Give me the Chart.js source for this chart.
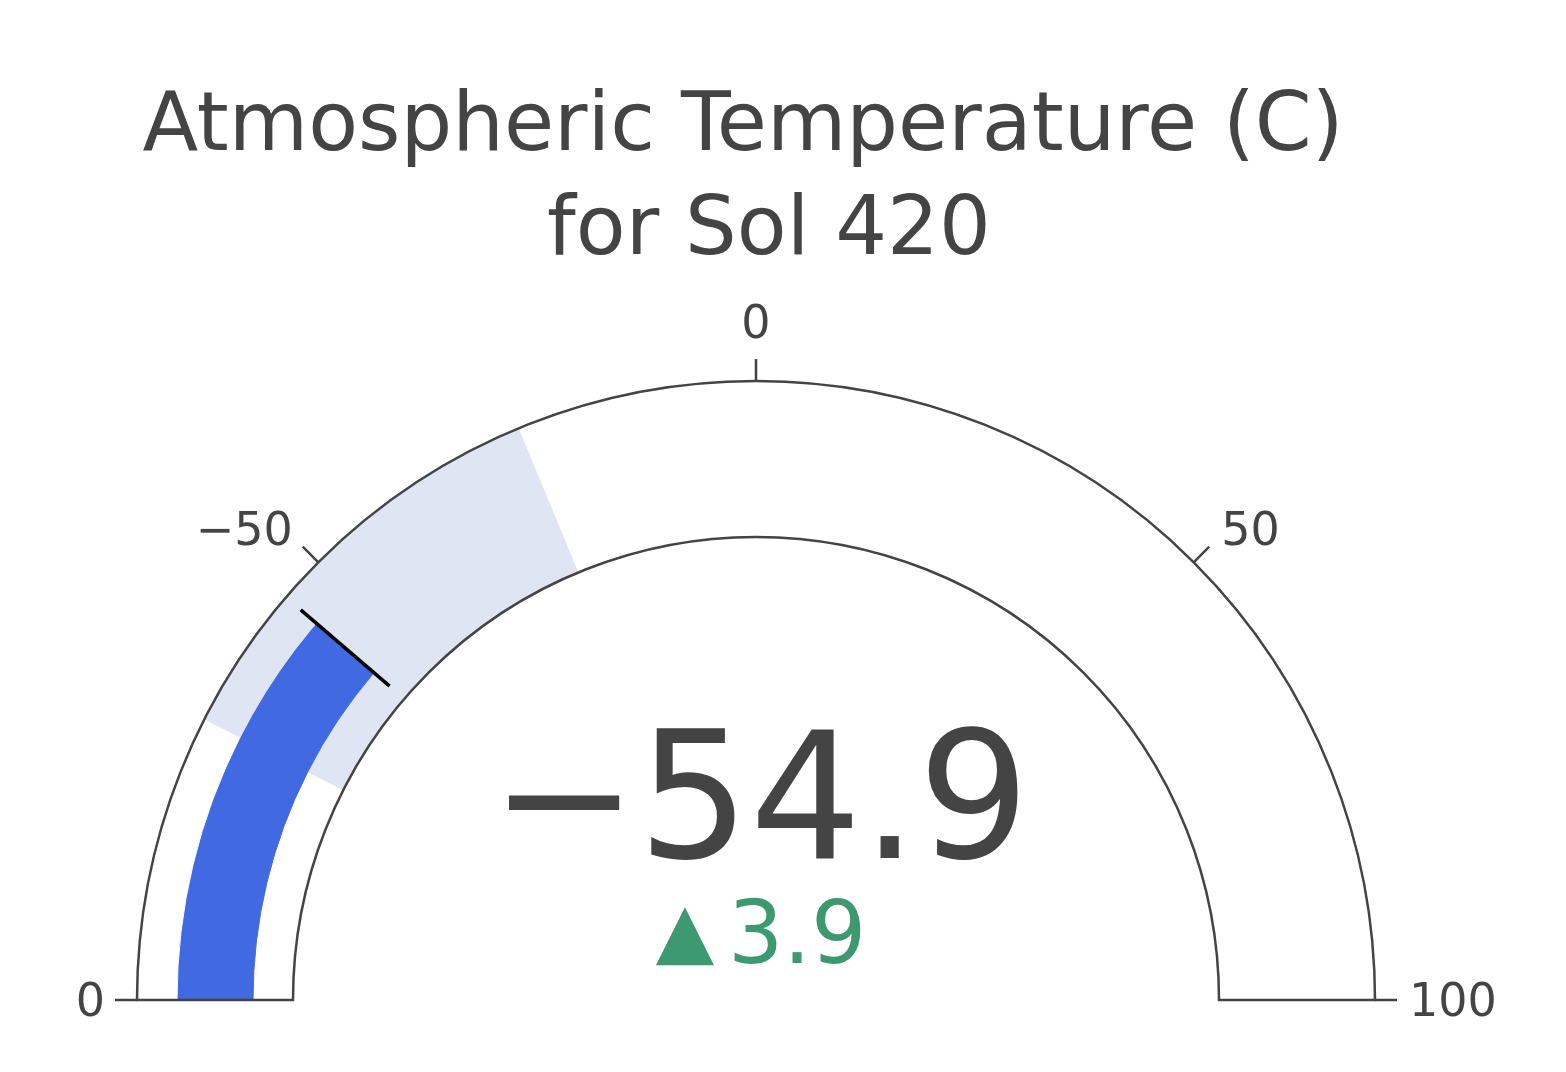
<!DOCTYPE html>
<html>
<head>
<meta charset="utf-8">
<script src="https://cdn.jsdelivr.net/npm/chart.js@4/dist/chart.umd.min.js"></script>
<style>
  html, body { margin:0; padding:0; background:#fff; }
  #wrap { width:1566px; height:1072px; }
</style>
</head>
<body>
<div id="wrap"><canvas id="gauge"></canvas></div>
<script>
// ---- data -----------------------------------------------------------------
const titleLines = ["Atmospheric Temperature (C) ", " for Sol 420"];
const gaugeMin = -100, gaugeMax = 100;
const gaugeValue = -54.9;
const deltaValue = 3.9;
const thresholdValue = -54.9;
const stepRange = [-70, -25];
const tickValues = [-100, -50, 0, 50, 100];
const tickLabels = ["0", "\u221250", "0", "50", "100"];

const INK = "#444444", BAR = "#4169e1", STEP = "#dfe5f2", BG = "#ffffff", UP = "#3d9970";
const FONT = "'DejaVu Sans', Verdana, sans-serif";

// corta el rango en tramos y les da color: barra (hasta el valor), banda, o vacio
function ringSegments(withBar){
  const cuts = [gaugeMin, gaugeMax, stepRange[0], stepRange[1]];
  if (withBar) cuts.push(gaugeValue);
  const pts = [...new Set(cuts)].sort((a,b) => a-b);
  const data = [], colors = [];
  for (let i = 0; i < pts.length-1; i++){
    const mid = (pts[i]+pts[i+1])/2;
    data.push(pts[i+1]-pts[i]);
    if (withBar && mid < gaugeValue) colors.push(BAR);
    else if (mid > stepRange[0] && mid < stepRange[1]) colors.push(STEP);
    else colors.push(BG);
  }
  return { data, colors };
}

const outerRing = ringSegments(false), barRing = ringSegments(true), innerRing = ringSegments(false);
const ring = (r, weight) => ({
  data: r.data, backgroundColor: r.colors, borderColor: r.colors,
  borderWidth: 1, weight
});

// valor -> angulo (izquierda = min, derecha = max, por arriba)
const angleOf = v => Math.PI + (v - gaugeMin)/(gaugeMax - gaugeMin)*Math.PI;

// ---- gauge overlay: borde, ticks, umbral, numero --------------------------
const gaugeDecor = {
  id: "gaugeDecor",
  afterDatasetsDraw(chart){
    const ctx = chart.ctx;
    const first = chart.getDatasetMeta(0).data[0];
    const last = chart.getDatasetMeta(chart.data.datasets.length-1).data[0];
    const cx = first.x, cy = first.y, R = first.outerRadius, r = last.innerRadius;

    ctx.save();
    // threshold
    const tr0 = (R + r)/2 - 0.375*(R - r), tr1 = (R + r)/2 + 0.375*(R - r);
    const ta = angleOf(thresholdValue);
    ctx.strokeStyle = "#000"; ctx.lineWidth = 3.5;
    ctx.beginPath();
    ctx.moveTo(cx + tr0*Math.cos(ta), cy + tr0*Math.sin(ta));
    ctx.lineTo(cx + tr1*Math.cos(ta), cy + tr1*Math.sin(ta));
    ctx.stroke();

    // outline
    ctx.strokeStyle = INK; ctx.lineWidth = 2.5;
    ctx.beginPath();
    ctx.arc(cx, cy, R, Math.PI, 2*Math.PI);
    ctx.lineTo(cx + r, cy);
    ctx.arc(cx, cy, r, 2*Math.PI, Math.PI, true);
    ctx.closePath();
    ctx.stroke();

    // ticks + labels
    ctx.font = `46px ${FONT}`;
    ctx.fillStyle = INK;
    ctx.textBaseline = "middle";
    tickValues.forEach((v, i) => {
      const a = angleOf(v), c = Math.cos(a), s = -Math.sin(a);
      const x0 = cx + R*c, y0 = cy - R*s, x1 = cx + (R+22)*c, y1 = cy - (R+22)*s;
      ctx.beginPath(); ctx.moveTo(x0, y0); ctx.lineTo(x1, y1); ctx.stroke();
      let tx = x1, align = "center";
      if (c < -0.1){ align = "right"; tx = x1 - 10; }
      else if (c > 0.1){ align = "left"; tx = x1 + 12; }
      ctx.textAlign = align;
      ctx.fillText(tickLabels[i], tx, y1 - 37*s*s + 4.5);
    });

    // number + delta
    ctx.textAlign = "center"; ctx.textBaseline = "alphabetic";
    ctx.font = `176px ${FONT}`;
    ctx.fillStyle = INK;
    ctx.fillText(gaugeValue.toFixed(1).replace("-", "\u2212"), cx + 4, 858);
    ctx.fillStyle = UP;
    ctx.font = `76px ${FONT}`;
    ctx.fillText(deltaValue >= 0 ? "\u25B2" : "\u25BC", cx - 71, 956);
    ctx.textAlign = "left";
    ctx.font = `87px ${FONT}`;
    ctx.fillText(Math.abs(deltaValue).toFixed(1), cx - 28, 963);
    ctx.restore();
  }
};

new Chart(document.getElementById("gauge"), {
  type: "doughnut",
  data: { datasets: [ ring(outerRing, 40), ring(barRing, 76), ring(innerRing, 40) ] },
  options: {
    responsive: true, maintainAspectRatio: false, animation: false, events: [],
    rotation: -90, circumference: 180,
    radius: 619, cutout: "74.8%",
    layout: { padding: { left: 0, right: 54, top: 0, bottom: 0 } },
    plugins: {
      legend: { display: false },
      tooltip: { enabled: false },
      title: {
        display: true, text: titleLines, color: INK,
        font: { family: FONT, size: 81.5, weight: "normal", lineHeight: 1.276 },
        padding: { top: 77, bottom: 24 }
      }
    }
  },
  plugins: [gaugeDecor]
});
</script>
</body>
</html>
